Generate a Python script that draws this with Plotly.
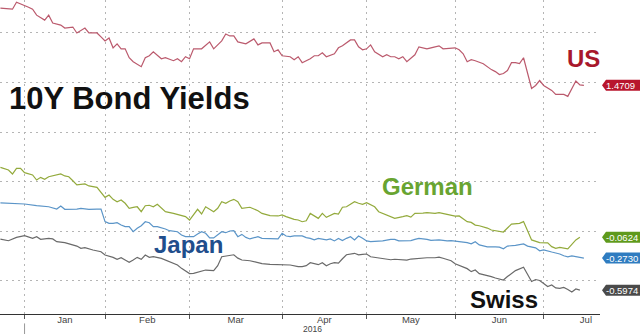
import pandas as pd
import plotly.graph_objects as go

# Trading-day calendar: weekdays, with the Christmas and New Year holidays removed
days = pd.bdate_range("2015-12-23", "2016-08-01").drop(
    pd.to_datetime(["2015-12-25", "2016-01-01"])
)
month_names = ["Jan", "Feb", "Mar", "Apr", "May", "Jun", "Jul"]
month_starts = [int(days.searchsorted(pd.Timestamp(f"2016-{m:02d}-01"))) for m in range(1, 9)]
month_bounds = month_starts[:-1]
month_mids = [(a + b) / 2 for a, b in zip(month_starts[:-1], month_starts[1:])]

# 10-year government bond yields (%), keyed by trading-day number
us_day = [0, 3, 4, 6, 7, 8, 9, 11, 12, 13, 15, 16, 18, 19, 21, 22, 24, 25, 26, 27, 28, 29, 30, 31,
          32, 33, 35, 36, 37, 38, 40, 41, 43, 44, 45, 46, 47, 48, 50, 52, 53, 55, 56, 57, 58, 59,
          60, 61, 63, 64, 65, 67, 68, 69, 70, 72, 73, 74, 75, 77, 78, 79, 80, 81, 83, 84, 85, 87,
          88, 89, 90, 91, 92, 93, 95, 96, 97, 98, 99, 100, 101, 102, 103, 104, 105, 106, 107, 109,
          110, 112, 113, 114, 115, 116, 117, 118, 120, 122, 123, 124, 125, 126, 127, 128, 129, 130,
          132, 133, 134, 135, 137, 138, 140, 141, 143, 144, 145]
us_yield = [2.25, 2.24, 2.31, 2.28, 2.26, 2.24, 2.18, 2.13, 2.18, 2.10, 2.08, 2.05, 2.06, 2.00,
            2.05, 2.00, 2.00, 1.96, 1.92, 1.95, 1.85, 1.89, 1.84, 1.84, 1.75, 1.71, 1.66, 1.75,
            1.77, 1.81, 1.74, 1.75, 1.72, 1.74, 1.71, 1.76, 1.74, 1.84, 1.84, 1.91, 1.84, 1.92,
            1.99, 1.97, 1.97, 1.91, 1.90, 1.89, 1.94, 1.88, 1.90, 1.90, 1.81, 1.83, 1.77, 1.76,
            1.73, 1.76, 1.70, 1.74, 1.77, 1.77, 1.80, 1.76, 1.79, 1.85, 1.87, 1.93, 1.93, 1.86,
            1.83, 1.84, 1.88, 1.81, 1.76, 1.78, 1.76, 1.76, 1.74, 1.76, 1.71, 1.75, 1.78, 1.86,
            1.85, 1.84, 1.85, 1.87, 1.84, 1.85, 1.85, 1.83, 1.79, 1.71, 1.73, 1.72, 1.69, 1.63,
            1.61, 1.58, 1.59, 1.62, 1.70, 1.70, 1.69, 1.75, 1.44, 1.47, 1.52, 1.47, 1.42, 1.38,
            1.38, 1.36, 1.515, 1.475, 1.4709]

de_day = [0, 2, 3, 4, 5, 6, 8, 9, 10, 11, 12, 13, 15, 16, 17, 18, 19, 21, 22, 24, 25, 26, 27, 28,
          29, 30, 31, 32, 33, 34, 35, 36, 37, 38, 39, 40, 41, 43, 45, 46, 47, 48, 49, 50, 51, 53,
          54, 55, 56, 57, 58, 59, 60, 62, 64, 65, 67, 69, 70, 71, 72, 73, 74, 75, 76, 77, 79, 80,
          81, 83, 84, 85, 86, 88, 89, 90, 91, 93, 94, 95, 97, 98, 100, 101, 102, 103, 105, 106,
          108, 109, 111, 112, 113, 114, 115, 116, 117, 118, 119, 121, 122, 124, 125, 126, 127,
          129, 130, 132, 133, 134, 136, 137, 138, 139, 141, 142, 143, 144]
de_yield = [0.643, 0.616, 0.576, 0.633, 0.633, 0.589, 0.566, 0.515, 0.542, 0.522, 0.548, 0.556,
            0.576, 0.556, 0.548, 0.508, 0.465, 0.475, 0.455, 0.441, 0.387, 0.340, 0.364, 0.320,
            0.296, 0.313, 0.280, 0.229, 0.239, 0.245, 0.195, 0.255, 0.260, 0.245, 0.270, 0.229,
            0.195, 0.178, 0.152, 0.145, 0.111, 0.162, 0.219, 0.172, 0.245, 0.195, 0.230, 0.296,
            0.280, 0.303, 0.320, 0.296, 0.229, 0.240, 0.205, 0.178, 0.155, 0.152, 0.162, 0.145,
            0.128, 0.118, 0.111, 0.094, 0.104, 0.178, 0.128, 0.178, 0.138, 0.178, 0.172, 0.240,
            0.245, 0.296, 0.280, 0.270, 0.286, 0.245, 0.195, 0.178, 0.150, 0.128, 0.145, 0.155,
            0.140, 0.178, 0.180, 0.185, 0.178, 0.185, 0.168, 0.162, 0.150, 0.152, 0.125, 0.094,
            0.087, 0.060, 0.053, 0.030, 0.010, 0.000, -0.010, 0.030, 0.070, 0.078, 0.095, -0.090,
            -0.107, -0.117, -0.120, -0.158, -0.175, -0.165, -0.180, -0.140, -0.090, -0.0624]

jp_day = [0, 2, 6, 9, 12, 14, 15, 16, 17, 19, 20, 22, 24, 25, 26, 27, 28, 29, 30, 31, 32, 33, 34,
          35, 36, 37, 38, 39, 41, 42, 44, 45, 46, 48, 49, 50, 51, 52, 53, 55, 56, 57, 58, 59, 60,
          61, 62, 64, 65, 67, 69, 70, 71, 72, 73, 75, 76, 77, 78, 79, 81, 82, 83, 84, 85, 86, 87,
          88, 89, 90, 91, 92, 94, 95, 97, 98, 99, 101, 102, 103, 104, 106, 107, 109, 111, 112,
          114, 116, 117, 118, 119, 121, 123, 124, 125, 126, 128, 129, 130, 131, 133, 134, 135,
          137, 138, 139, 140, 141, 142, 143, 144, 145]
jp_yield = [0.285, 0.279, 0.273, 0.256, 0.245, 0.222, 0.253, 0.219, 0.219, 0.222, 0.229, 0.219,
            0.222, 0.222, 0.095, 0.077, 0.077, 0.084, 0.061, 0.044, 0.044, -0.007, 0.027, 0.054,
            0.094, 0.084, 0.044, 0.044, 0.020, 0.003, -0.007, -0.040, -0.057, -0.057, -0.030,
            -0.007, -0.023, -0.070, -0.070, -0.007, -0.017, 0.000, 0.003, -0.057, -0.034, -0.064,
            -0.080, -0.057, -0.074, -0.080, -0.080, -0.023, -0.050, -0.057, -0.050, -0.050,
            -0.067, -0.074, -0.090, -0.074, -0.090, -0.080, -0.100, -0.075, -0.097, -0.074,
            -0.057, -0.090, -0.050, -0.074, -0.100, -0.107, -0.107, -0.100, -0.084, -0.084,
            -0.100, -0.100, -0.097, -0.084, -0.074, -0.084, -0.094, -0.090, -0.100, -0.097,
            -0.107, -0.117, -0.130, -0.108, -0.140, -0.160, -0.160, -0.163, -0.180, -0.152,
            -0.145, -0.135, -0.130, -0.152, -0.170, -0.200, -0.190, -0.212, -0.220, -0.232,
            -0.250, -0.260, -0.252, -0.258, -0.260, -0.2730]

ch_day = [0, 2, 4, 5, 6, 8, 9, 10, 12, 13, 14, 16, 17, 19, 20, 21, 23, 25, 26, 28, 29, 30, 31, 32,
          33, 34, 35, 36, 37, 38, 40, 41, 43, 44, 45, 47, 48, 50, 51, 53, 54, 55, 57, 58, 59, 60,
          62, 64, 65, 67, 69, 71, 72, 74, 75, 76, 77, 79, 80, 81, 82, 83, 84, 85, 86, 88, 89, 90,
          91, 92, 94, 96, 97, 98, 100, 101, 102, 104, 105, 106, 108, 109, 110, 111, 112, 113, 115,
          116, 117, 118, 119, 121, 122, 123, 125, 126, 127, 128, 130, 131, 132, 133, 134, 135,
          136, 137, 138, 139, 140, 141, 142, 143, 144]
ch_yield = [-0.081, -0.098, -0.064, -0.057, -0.047, -0.074, -0.057, -0.084, -0.074, -0.080,
            -0.108, -0.118, -0.131, -0.152, -0.175, -0.168, -0.192, -0.209, -0.242, -0.266,
            -0.286, -0.270, -0.293, -0.316, -0.293, -0.266, -0.286, -0.242, -0.266, -0.259,
            -0.276, -0.293, -0.320, -0.343, -0.377, -0.430, -0.427, -0.410, -0.394, -0.400,
            -0.350, -0.260, -0.250, -0.240, -0.274, -0.293, -0.300, -0.320, -0.330, -0.336,
            -0.336, -0.343, -0.343, -0.360, -0.360, -0.350, -0.320, -0.340, -0.320, -0.350,
            -0.330, -0.320, -0.325, -0.280, -0.240, -0.225, -0.240, -0.235, -0.232, -0.260,
            -0.270, -0.280, -0.290, -0.285, -0.293, -0.293, -0.283, -0.276, -0.276, -0.270,
            -0.270, -0.264, -0.275, -0.290, -0.300, -0.330, -0.367, -0.380, -0.410, -0.394,
            -0.430, -0.445, -0.460, -0.475, -0.495, -0.460, -0.430, -0.400, -0.366, -0.440,
            -0.510, -0.490, -0.500, -0.530, -0.560, -0.545, -0.575, -0.580, -0.570, -0.590,
            -0.615, -0.585, -0.5974]

series = [
    ("US", us_day, us_yield, "#bb5a6d", "#b8152d"),
    ("German", de_day, de_yield, "#93aa3c", "#5f9a1c"),
    ("Japan", jp_day, jp_yield, "#5b95c8", "#2f7cc0"),
    ("Swiss", ch_day, ch_yield, "#6a6a6a", "#4a4a4a"),
]

fig = go.Figure()
for name, xs, ys, line_color, tag_color in series:
    fig.add_trace(go.Scatter(
        x=xs, y=ys, mode="lines", name=name, showlegend=False, hoverinfo="skip",
        line=dict(color=line_color, width=1.2),
    ))
    last = ys[-1]
    # value tag on the right edge, pointing at the latest reading
    fig.add_shape(
        type="path", xref="paper", yref="y", xsizemode="pixel", ysizemode="pixel",
        xanchor=1, yanchor=last,
        path="M 2,0 L 6,5.5 L 42,5.5 L 42,-5.5 L 6,-5.5 Z",
        fillcolor=tag_color, line_width=0, layer="above",
    )
    fig.add_annotation(
        x=1, xref="paper", y=last, yref="y", xanchor="left", yanchor="middle",
        xshift=4, text=f"{last:.4f}", showarrow=False,
        font=dict(family="Liberation Sans, Arial, sans-serif", size=9.5, color="white"),
    )

# Series names and title
labels = [
    ("10Y Bond Yields", 0.012, 0.687, 31, "#111111"),
    ("US", 0.942, 0.815, 24, "#a8182c"),
    ("German", 0.633, 0.405, 24, "#68a431"),
    ("Japan", 0.253, 0.22, 24, "#1f4e8c"),
    ("Swiss", 0.780, 0.045, 24, "#111111"),
]
for text, x, y, size, color in labels:
    fig.add_annotation(
        x=x, y=y, xref="paper", yref="paper", xanchor="left", yanchor="middle",
        text=f"<b>{text}</b>", showarrow=False,
        font=dict(family="Liberation Sans, Arial, sans-serif", size=size, color=color),
    )

# Year caption under the visible part of 2016, with a separator at the year start
x_range = [-0.1, 149]
fig.add_annotation(
    x=(month_starts[0] + x_range[1]) / 2, xref="x", y=-0.048, yref="paper",
    text="2016", showarrow=False, yanchor="middle",
    font=dict(family="Liberation Sans Narrow, Liberation Sans, sans-serif", size=8.5, color="#444444"),
)
fig.add_shape(
    type="line", xref="x", yref="paper", x0=month_starts[0], x1=month_starts[0],
    y0=-0.03, y1=-0.08, line=dict(color="#999999", width=1),
)

grid_color = "#b5b5b5"
fig.update_layout(
    width=640, height=334,
    margin=dict(l=0, r=40, t=0, b=20),
    paper_bgcolor="white", plot_bgcolor="white",
    xaxis=dict(
        range=x_range, tickmode="array", tickvals=month_mids, ticktext=month_names,
        ticks="", showgrid=False, zeroline=False, ticklabelstandoff=-3,
        showline=True, linecolor="#333333", linewidth=1,
        tickfont=dict(family="Liberation Sans Narrow, Liberation Sans, sans-serif", size=9.5, color="#444444"),
        minor=dict(tickmode="array", tickvals=month_bounds, ticks="outside", ticklen=4,
                   tickcolor="#555555", showgrid=True, gridcolor=grid_color,
                   griddash="2px,4px", gridwidth=1),
    ),
    yaxis=dict(
        range=[-0.838, 2.333], tickmode="array", tickvals=[-0.5, 0, 0.5, 1.0, 1.5, 2.0],
        showticklabels=False, ticks="", zeroline=False, showline=False,
        showgrid=True, gridcolor=grid_color, griddash="2px,4px", gridwidth=1,
    ),
)

fig.write_html("out.html")
